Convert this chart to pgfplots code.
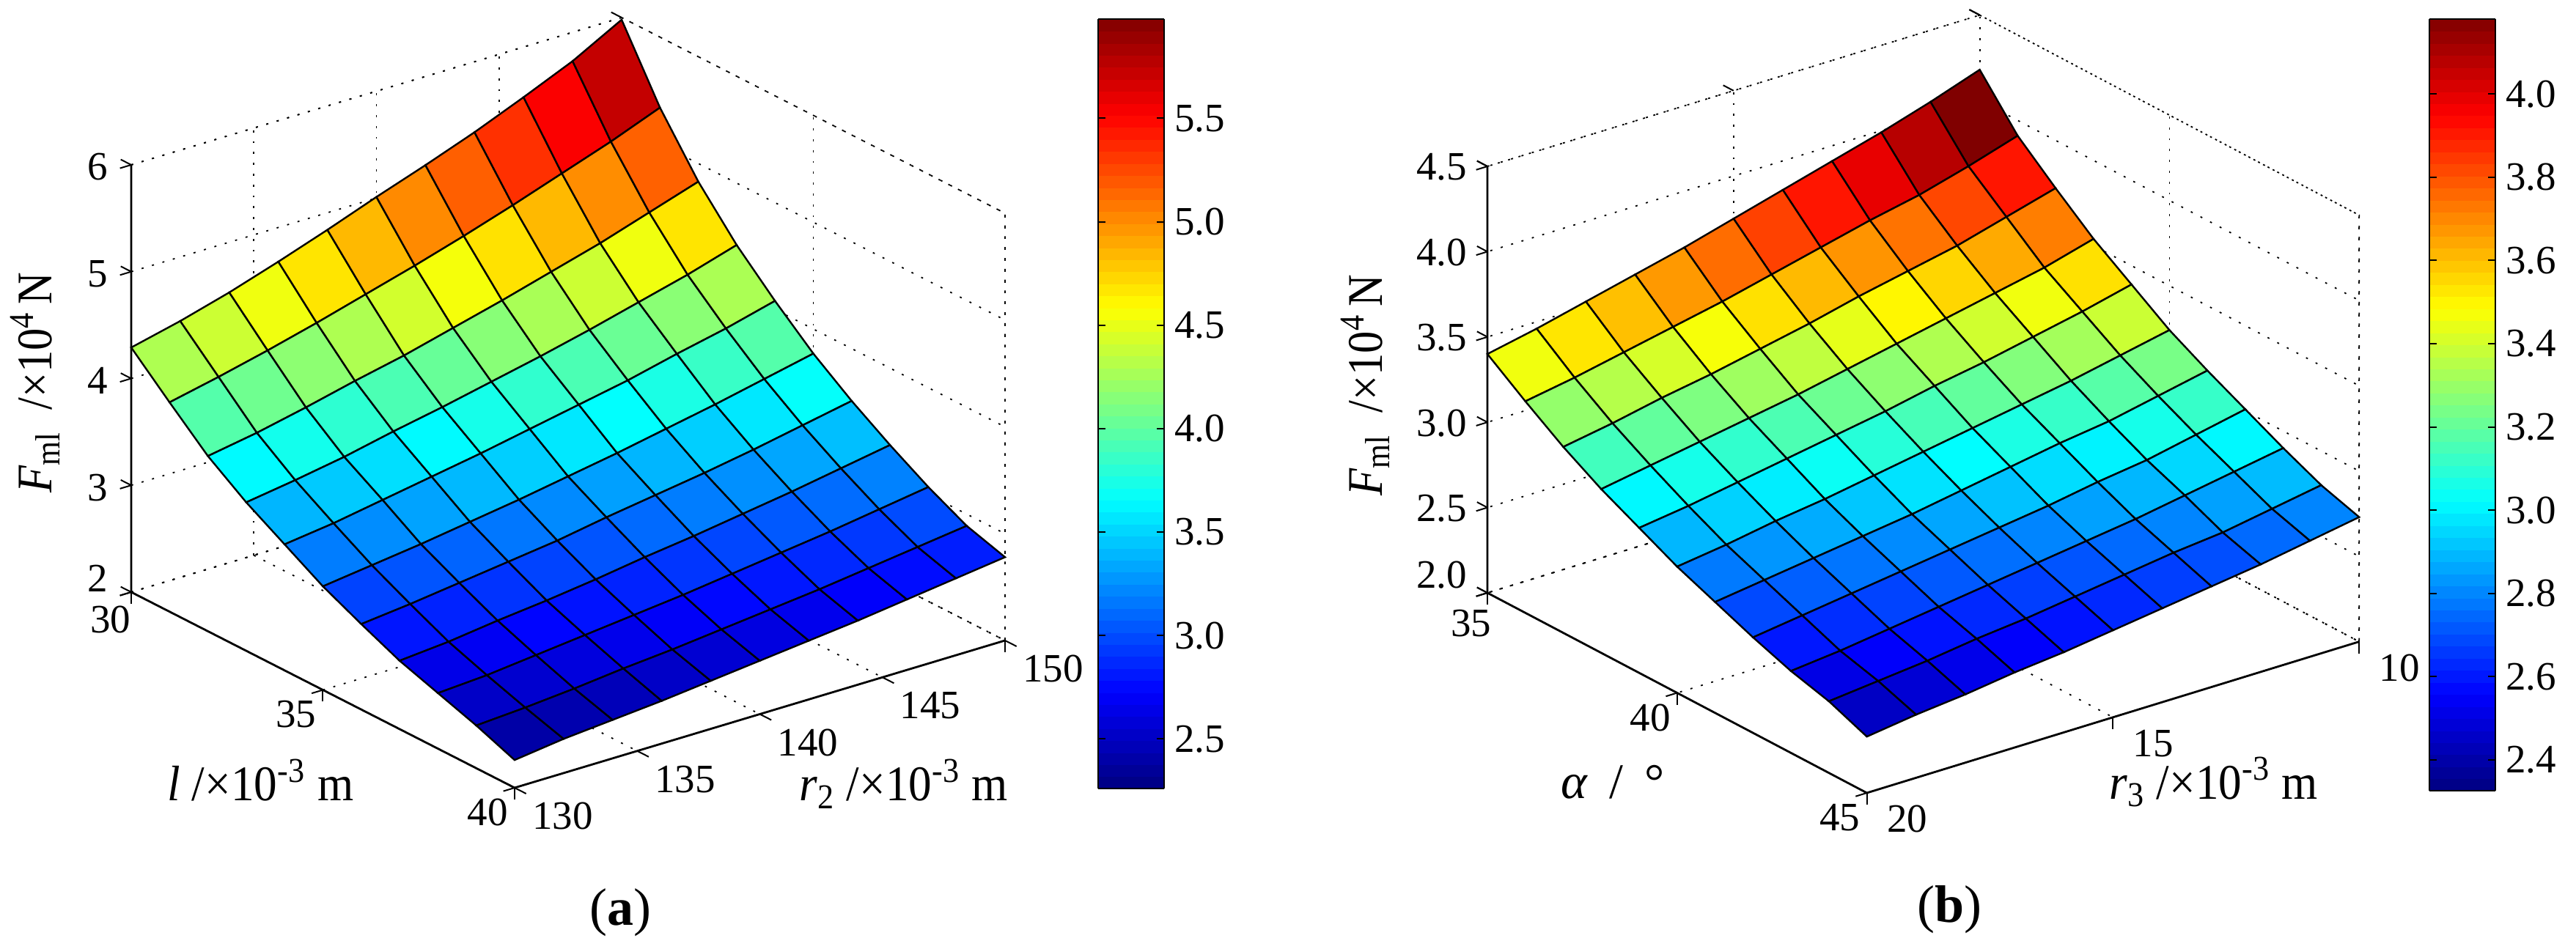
\documentclass[border=0pt]{standalone}
\usepackage{fontspec}
\setmainfont{Liberation Serif}
\usepackage{graphicx}
\usepackage{pgfplots}
\pgfplotsset{compat=1.18}
\newcommand\tickfont{\fontsize{13.75}{15}\selectfont}
\newcommand\labfont{\fontsize{17}{19}\selectfont}
\newcommand\XL[1]{\scalebox{.93}[1]{#1}}
\newcommand\ZL[1]{\scalebox{.89}[1]{#1}}
\pgfplotsset{
  surfaxis/.style={
    anchor=south west, clip=false, colormap/jet,
    /pgf/number format/assume math mode=true,
    grid=major,
    grid style={black, line width=.45pt, dash pattern=on .7pt off 3pt},
    axis line style={draw=none},
    tick style={black, line width=.5pt},
    major tick length=4pt, tick align=outside,
    xtick pos=left, ytick pos=left, ztick pos=left,
    tick label style={font=\tickfont, inner sep=1pt},
    label style={font=\labfont},
    xlabel style={anchor=center},
    ylabel style={anchor=center},
    zlabel style={anchor=center, rotate=0},
  },
  framedot/.style={black, line width=.45pt, dash pattern=on .7pt off 3pt, no marks, forget plot},
  framesolid/.style={black, line width=.7pt, no marks, forget plot},
  surfstyle/.style={surf, shader=flat corner, draw=black, line width=.6pt, z buffer=none, mesh/rows=11, mesh/cols=11},
  cbaxis/.style={
    hide axis, scale only axis, anchor=south west, colormap/jet,
    xmin=0, xmax=1, ymin=0, ymax=1,
    colorbar sampled,
    colorbar style={samples=65, at={(0,0)}, anchor=south west, width=22.5pt,
      /pgf/number format/assume math mode=true,
      /pgf/number format/fixed, /pgf/number format/fixed zerofill, /pgf/number format/precision=1,
      tick label style={font=\tickfont},
      yticklabel pos=right, tick align=inside, major tick length=2.5pt,
      ytick pos=both, axis line style={black, line width=.5pt}, ytick style={black, line width=.5pt}},
  },
}
\begin{document}
\begin{tikzpicture}
\useasboundingbox (0,0) rectangle (878.5pt,323.75pt);
% ---------- (a)
\begin{axis}[surfaxis, at={(44.75pt,55pt)},
  x={(13.075pt,-6.675pt)}, y={(8.3625pt,2.5125pt)}, z={(0pt,36.44pt)},
  xmin=30, xmax=40, ymin=130, ymax=150, zmin=2, zmax=6,
  point meta min=2.26, point meta max=5.98,
  xtick={30,35,40}, ytick={130,135,140,145,150}, ztick={2,3,4,5,6},
  ytick style={draw=none},
  xticklabels={\hspace{6pt}30,35,40},
  zticklabels={\raisebox{11pt}{2},3,4,5,6},
  zticklabel style={xshift=-3pt},
  yticklabel style={xshift=8pt},
  xlabel={\XL{\textit{l} /×10\textsuperscript{-3} m}},
  ylabel={\XL{\textit{r}\textsubscript{2} /×10\textsuperscript{-3} m}},
  zlabel={\ZL{\textit{F}\textsubscript{ml}\hspace{4pt} /×10\textsuperscript{4}\,N}},
  xlabel style={at={(axis description cs:.148,.01)}},
  ylabel style={at={(axis description cs:.884,.005)}},
  zlabel style={at={(axis description cs:-.11,.526)}},
]
\addplot3[framedot] coordinates {(30,130,6)(30,150,6)(40,150,6)(40,150,2)(30,150,2)(30,130,2)};
\addplot3[framedot] coordinates {(30,150,2)(30,150,6)};
\addplot3[framesolid] coordinates {(30,130,6)(30,130,2)(40,130,2)(40,150,2)};
\addplot3[framesolid,line width=.5pt] coordinates {(40,130,2)(40.3,130,2)};
\addplot3[framesolid,line width=.5pt] coordinates {(40,135,2)(40.3,135,2)};
\addplot3[framesolid,line width=.5pt] coordinates {(40,140,2)(40.3,140,2)};
\addplot3[framesolid,line width=.5pt] coordinates {(40,145,2)(40.3,145,2)};
\addplot3[framesolid,line width=.5pt] coordinates {(40,150,2)(40.3,150,2)};
\addplot3[surfstyle, mesh/ordering=y varies] coordinates {
(30,130,4.29)(30,132,4.40)(30,134,4.53)(30,136,4.68)(30,138,4.84)(30,140,5.01)(30,142,5.17)(30,144,5.34)(30,146,5.53)(30,148,5.73)(30,150,5.98)
(31,130,3.96)(31,132,4.06)(31,134,4.17)(31,136,4.29)(31,138,4.42)(31,140,4.55)(31,142,4.69)(31,144,4.84)(31,146,5.00)(31,148,5.16)(31,150,5.34)
(32,130,3.64)(32,132,3.72)(32,134,3.82)(32,136,3.93)(32,138,4.03)(32,140,4.15)(32,142,4.27)(32,144,4.40)(32,146,4.53)(32,148,4.68)(32,150,4.83)
(33,130,3.39)(33,132,3.46)(33,134,3.54)(33,136,3.64)(33,138,3.73)(33,140,3.83)(33,142,3.93)(33,144,4.04)(33,146,4.16)(33,148,4.28)(33,150,4.42)
(34,130,3.18)(34,132,3.24)(34,134,3.32)(34,136,3.40)(34,138,3.48)(34,140,3.57)(34,142,3.66)(34,144,3.75)(34,146,3.86)(34,148,3.96)(34,150,4.08)
(35,130,2.97)(35,132,3.03)(35,134,3.09)(35,136,3.16)(35,138,3.23)(35,140,3.31)(35,142,3.39)(35,144,3.48)(35,146,3.57)(35,148,3.67)(35,150,3.77)
(36,130,2.80)(36,132,2.85)(36,134,2.91)(36,136,2.97)(36,138,3.03)(36,140,3.11)(36,142,3.18)(36,144,3.25)(36,146,3.33)(36,148,3.42)(36,150,3.51)
(37,130,2.64)(37,132,2.68)(37,134,2.74)(37,136,2.79)(37,138,2.85)(37,140,2.92)(37,142,2.98)(37,144,3.05)(37,146,3.12)(37,148,3.20)(37,150,3.28)
(38,130,2.52)(38,132,2.55)(38,134,2.60)(38,136,2.65)(38,138,2.70)(38,140,2.75)(38,142,2.81)(38,144,2.87)(38,146,2.93)(38,148,3.00)(38,150,3.07)
(39,130,2.40)(39,132,2.43)(39,134,2.47)(39,136,2.52)(39,138,2.56)(39,140,2.61)(39,142,2.66)(39,144,2.71)(39,146,2.77)(39,148,2.83)(39,150,2.89)
(40,130,2.26)(40,132,2.32)(40,134,2.36)(40,136,2.40)(40,138,2.45)(40,140,2.50)(40,142,2.55)(40,144,2.60)(40,146,2.66)(40,148,2.72)(40,150,2.78)
};
\end{axis}
\begin{axis}[cbaxis, at={(374.5pt,54.75pt)}, width=22.5pt, height=262.5pt,
  point meta min=2.26, point meta max=5.98,
  colorbar style={height=262.5pt, ytick={2.5,3,3.5,4,4.5,5,5.5}}]
\addplot[draw=none] coordinates {(0,0)(1,1)};
\end{axis}
% ---------- (b)
\begin{axis}[surfaxis, at={(507.25pt,53.25pt)},
  x={(12.94pt,-6.825pt)}, y={(16.79pt,5.16pt)}, z={(0pt,58.2pt)},
  y dir=reverse,
  xmin=35, xmax=45, ymin=10, ymax=20, zmin=2, zmax=4.5,
  point meta min=2.326, point meta max=4.18,
  xtick={35,40,45}, ytick={10,15,20}, ztick={2,2.5,3,3.5,4,4.5},
  xticklabels={\hspace{10pt}35,40,45},
  zticklabels={\raisebox{13pt}{2.0},2.5,3.0,3.5,4.0,4.5},
  zticklabel style={xshift=-2pt},
  yticklabel style={xshift=6pt},
  xlabel={\textit{α}\hspace{3pt} /\hspace{3pt} °},
  ylabel={\XL{\textit{r}\textsubscript{3} /×10\textsuperscript{-3} m}},
  zlabel={\ZL{\textit{F}\textsubscript{ml}\hspace{4pt} /×10\textsuperscript{4}\,N}},
  xlabel style={at={(axis description cs:.144,.014)}},
  ylabel style={at={(axis description cs:.833,.014)}},
  zlabel style={at={(axis description cs:-.14,.524)}},
]
\addplot3[framedot] coordinates {(35,20,4.5)(35,10,4.5)(45,10,4.5)(45,10,2)(35,10,2)(35,20,2)};
\addplot3[framedot] coordinates {(35,10,2)(35,10,4.5)};
\addplot3[framesolid] coordinates {(35,20,4.5)(35,20,2)(45,20,2)(45,10,2)};
\addplot3[surfstyle, mesh/ordering=y varies] coordinates {
(35,10,4.18)(35,11,4.08)(35,12,3.99)(35,13,3.91)(35,14,3.83)(35,15,3.75)(35,16,3.67)(35,17,3.60)(35,18,3.53)(35,19,3.46)(35,20,3.40)
(36,10,3.91)(36,11,3.82)(36,12,3.74)(36,13,3.68)(36,14,3.61)(36,15,3.54)(36,16,3.47)(36,17,3.41)(36,18,3.35)(36,19,3.29)(36,20,3.24)
(37,10,3.72)(37,11,3.64)(37,12,3.56)(37,13,3.50)(37,14,3.44)(37,15,3.37)(37,16,3.31)(37,17,3.25)(37,18,3.20)(37,19,3.14)(37,20,3.09)
(38,10,3.54)(38,11,3.46)(38,12,3.40)(38,13,3.34)(38,14,3.28)(38,15,3.22)(38,16,3.16)(38,17,3.11)(38,18,3.06)(38,19,3.01)(38,20,2.96)
(39,10,3.39)(39,11,3.32)(39,12,3.26)(39,13,3.20)(39,14,3.15)(39,15,3.09)(39,16,3.04)(39,17,2.99)(39,18,2.94)(39,19,2.89)(39,20,2.85)
(40,10,3.24)(40,11,3.18)(40,12,3.12)(40,13,3.07)(40,14,3.02)(40,15,2.97)(40,16,2.92)(40,17,2.87)(40,18,2.83)(40,19,2.78)(40,20,2.74)
(41,10,3.12)(41,11,3.06)(41,12,3.00)(41,13,2.96)(41,14,2.91)(41,15,2.86)(41,16,2.81)(41,17,2.77)(41,18,2.73)(41,19,2.69)(41,20,2.65)
(42,10,3.01)(42,11,2.95)(42,12,2.89)(42,13,2.85)(42,14,2.80)(42,15,2.76)(42,16,2.72)(42,17,2.68)(42,18,2.64)(42,19,2.60)(42,20,2.56)
(43,10,2.90)(43,11,2.85)(43,12,2.80)(43,13,2.75)(43,14,2.71)(43,15,2.67)(43,16,2.63)(43,17,2.59)(43,18,2.55)(43,19,2.51)(43,20,2.48)
(44,10,2.80)(44,11,2.75)(44,12,2.70)(44,13,2.67)(44,14,2.63)(44,15,2.59)(44,16,2.55)(44,17,2.52)(44,18,2.48)(44,19,2.45)(44,20,2.42)
(45,10,2.73)(45,11,2.68)(45,12,2.63)(45,13,2.59)(45,14,2.55)(45,15,2.51)(45,16,2.47)(45,17,2.44)(45,18,2.40)(45,19,2.37)(45,20,2.33)
};
\end{axis}
\begin{axis}[cbaxis, at={(828.5pt,54pt)}, width=22.5pt, height=263.25pt,
  point meta min=2.326, point meta max=4.18,
  colorbar style={height=263.25pt, ytick={2.4,2.6,2.8,3,3.2,3.4,3.6,3.8,4}}]
\addplot[draw=none] coordinates {(0,0)(1,1)};
\end{axis}
\node[font=\fontsize{18}{20}\selectfont] at (211.5pt,12.5pt) {(\textbf{a})};
\node[font=\fontsize{18}{20}\selectfont] at (664.75pt,13.5pt) {(\textbf{b})};
\end{tikzpicture}
\end{document}
